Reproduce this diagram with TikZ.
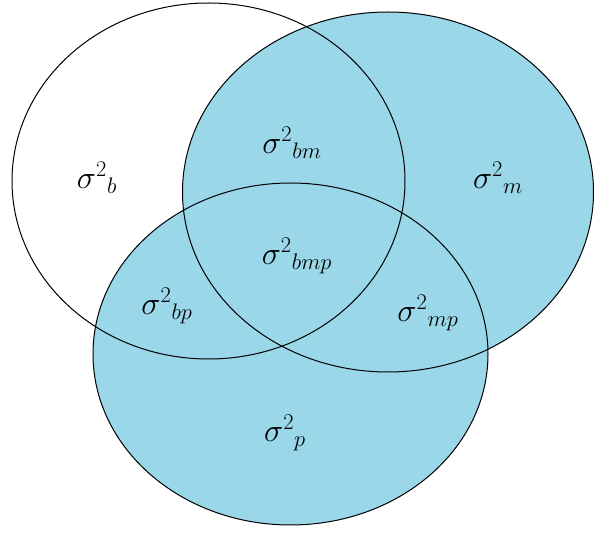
\documentclass[tikz,border=0pt]{standalone}
\usepackage{tikz}
\usepackage{xcolor}
\usepackage{amsmath}
\definecolor{colorBlue}{HTML}{9AD7E8}
\def\colorBlue{colorBlue}
\tikzset{varlabel/.style={font=\fontsize{24}{28}\selectfont, inner sep=0pt, scale=1.3, transform shape}}

\begin{document}
\begin{tikzpicture}[x=1pt,y=-1pt]
\useasboundingbox (0,0) rectangle (595,534);

% Les ellipses remplies
\fill[white] (208.5,181) ellipse [x radius=196.5pt, y radius=178pt];
\fill[\colorBlue] (388,192) ellipse [x radius=205.5pt, y radius=180pt];
\fill[\colorBlue] (290.5,354) ellipse [x radius=197.5pt, y radius=171pt];

% Les contours
\draw[line width=1pt] (208.5,181) ellipse [x radius=196.5pt, y radius=178pt];
\draw[line width=1pt] (388,192) ellipse [x radius=205.5pt, y radius=180pt];
\draw[line width=1pt] (290.5,354) ellipse [x radius=197.5pt, y radius=171pt];

% Les etiquettes
\node[varlabel] (b)   at (97,178)  {$\sigma^{2}{}_{b}$};
\node[varlabel] (bm)  at (292,143) {$\sigma^{2}{}_{bm}$};
\node[varlabel] (m)   at (498,178) {$\sigma^{2}{}_{m}$};
\node[varlabel] (bmp) at (297,256) {$\sigma^{2}{}_{bmp}$};
\node[varlabel] (bp)  at (167,306) {$\sigma^{2}{}_{bp}$};
\node[varlabel] (mp)  at (428,313) {$\sigma^{2}{}_{mp}$};
\node[varlabel] (p)   at (285,433) {$\sigma^{2}{}_{p}$};

\end{tikzpicture}
\end{document}
